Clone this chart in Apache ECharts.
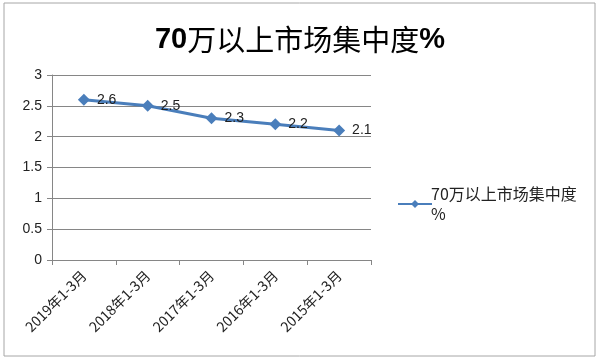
<!DOCTYPE html>
<html><head><meta charset="utf-8">
<script src="https://cdn.jsdelivr.net/npm/echarts@6/dist/echarts.min.js"></script>
<style>html,body{margin:0;padding:0;background:#fff}#c{width:600px;height:363px}</style>
</head><body><div id="c"></div>
<script>
const categories = ["2019年1-3月","2018年1-3月","2017年1-3月","2016年1-3月","2015年1-3月"];
const values = [2.6, 2.5, 2.3, 2.2, 2.1];
const seriesName = "70万以上市场集中度%";
const titleParts = ["70", "万以上市场集中度", "%"];

const chart = echarts.init(document.getElementById('c'));
chart.setOption({
  animation: false,
  backgroundColor: '#fff',
  graphic: [{type:'rect', shape:{x:4,y:3,width:591,height:353}, style:{fill:'none', stroke:'#a6a6a6', lineWidth:1}}],
  title: {text: '{b|' + titleParts[0] + '}{n|' + titleParts[1] + '}{b|' + titleParts[2] + '}', left: 'center', top: 20,
    textStyle: {rich: {
      b: {fontSize: 29, fontWeight: 'bold', color: '#000', fontFamily: 'Liberation Sans'},
      n: {fontSize: 29, fontWeight: 'normal', color: '#000', fontFamily: 'Noto Sans CJK SC'}
    }}},
  legend: {orient:'vertical', left: 392, top: 179, itemWidth: 34, itemHeight: 10, itemGap: 0,
    formatter: n => '70万以上市场集中度\n%',
    textStyle: {fontSize: 16, color:'#222', lineHeight: 20, padding: [0,0,0,-6], fontFamily: 'Noto Sans CJK SC'}},
  grid: {left: 52, right: 229, top: 75, bottom: 103, containLabel: false},
  xAxis: {type:'category', data: categories, boundaryGap: true,
    axisLine: {lineStyle:{color:'#868686'}},
    axisTick: {show: true, alignWithLabel: false, length: 5, lineStyle:{color:'#868686'}},
    axisLabel: {rotate: 45, fontSize: 14, color:'#222', margin: 13, interval: 0, fontFamily:'Noto Sans CJK SC'}},
  yAxis: {type:'value', min: 0, max: 3, interval: 0.5,
    axisLine: {show: true, lineStyle:{color:'#868686'}},
    axisTick: {show: true, length: 5, lineStyle:{color:'#868686'}},
    splitLine: {lineStyle:{color:'#868686'}},
    axisLabel: {fontSize: 14, color:'#222', margin: 10, fontFamily:'Liberation Sans'}},
  series: [{name: seriesName, type:'line', data: values,
    symbol: 'diamond', symbolSize: 12,
    itemStyle: {color:'#4a7ebb'}, lineStyle: {color:'#4a7ebb', width: 3},
    label: {show: true, position: 'right', distance: 7, fontSize: 14, color:'#222', fontFamily:'Liberation Sans'}}]
});
</script></body></html>
